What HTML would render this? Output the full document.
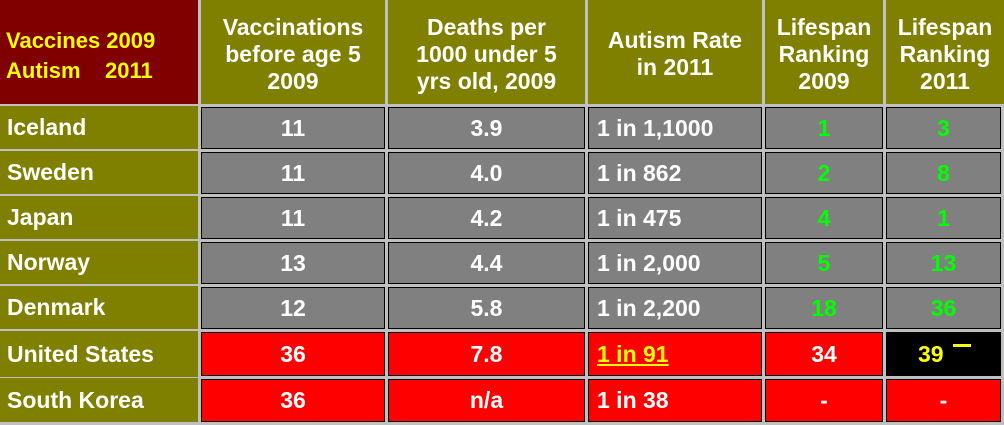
<!DOCTYPE html><html><head><style>
body{margin:0;width:1004px;height:425px;background:#c0c0c0;position:relative;overflow:hidden;font-family:"Liberation Sans",Arial,sans-serif;font-weight:bold;}
.c{position:absolute;box-sizing:border-box;display:flex;align-items:center;justify-content:center;text-align:center;color:#fff;font-size:23px;}
.h{background:#808000;line-height:27px;top:0;height:104px;padding-top:4px;}
.n{background:#808000;justify-content:flex-start;padding-left:7px;}
.g{background:#808080;border:1px solid #000;}
.r{background:#ff0000;border:1px solid #000;}
.gr{color:#00ff00}
.l{justify-content:flex-start;padding-left:8px;}
</style></head><body>
<div class="c h" style="left:0;width:198px;background:#800000;color:#ffff00;justify-content:flex-start;padding-left:6px;text-align:left;font-size:22px;line-height:30px;padding-top:8px">Vaccines 2009<br>Autism&nbsp;&nbsp;&nbsp;&nbsp;2011</div>
<div class="c h" style="left:201px;width:184px">Vaccinations<br>before age 5<br>2009</div>
<div class="c h" style="left:388px;width:197px">Deaths per<br>1000 under 5<br>yrs old, 2009</div>
<div class="c h" style="left:588px;width:174px">Autism Rate<br>in 2011</div>
<div class="c h" style="left:765px;width:118px">Lifespan<br>Ranking<br>2009</div>
<div class="c h" style="left:886px;width:118px">Lifespan<br>Ranking<br>2011</div>

<div class="c n" style="left:0;width:198px;top:106px;height:43px">Iceland</div>
<div class="c g" style="left:201px;width:184px;top:107px;height:42px">11</div>
<div class="c g" style="left:388px;width:197px;top:107px;height:42px">3.9</div>
<div class="c g l" style="left:588px;width:174px;top:107px;height:42px">1 in 1,1000</div>
<div class="c g gr" style="left:765px;width:118px;top:107px;height:42px">1</div>
<div class="c g gr" style="left:886px;width:115px;top:107px;height:42px">3</div>

<div class="c n" style="left:0;width:198px;top:151px;height:43px">Sweden</div>
<div class="c g" style="left:201px;width:184px;top:152px;height:42px">11</div>
<div class="c g" style="left:388px;width:197px;top:152px;height:42px">4.0</div>
<div class="c g l" style="left:588px;width:174px;top:152px;height:42px">1 in 862</div>
<div class="c g gr" style="left:765px;width:118px;top:152px;height:42px">2</div>
<div class="c g gr" style="left:886px;width:115px;top:152px;height:42px">8</div>

<div class="c n" style="left:0;width:198px;top:196px;height:43px">Japan</div>
<div class="c g" style="left:201px;width:184px;top:197px;height:42px">11</div>
<div class="c g" style="left:388px;width:197px;top:197px;height:42px">4.2</div>
<div class="c g l" style="left:588px;width:174px;top:197px;height:42px">1 in 475</div>
<div class="c g gr" style="left:765px;width:118px;top:197px;height:42px">4</div>
<div class="c g gr" style="left:886px;width:115px;top:197px;height:42px">1</div>

<div class="c n" style="left:0;width:198px;top:241px;height:43px">Norway</div>
<div class="c g" style="left:201px;width:184px;top:242px;height:42px">13</div>
<div class="c g" style="left:388px;width:197px;top:242px;height:42px">4.4</div>
<div class="c g l" style="left:588px;width:174px;top:242px;height:42px">1 in 2,000</div>
<div class="c g gr" style="left:765px;width:118px;top:242px;height:42px">5</div>
<div class="c g gr" style="left:886px;width:115px;top:242px;height:42px">13</div>

<div class="c n" style="left:0;width:198px;top:286px;height:43px">Denmark</div>
<div class="c g" style="left:201px;width:184px;top:287px;height:42px">12</div>
<div class="c g" style="left:388px;width:197px;top:287px;height:42px">5.8</div>
<div class="c g l" style="left:588px;width:174px;top:287px;height:42px">1 in 2,200</div>
<div class="c g gr" style="left:765px;width:118px;top:287px;height:42px">18</div>
<div class="c g gr" style="left:886px;width:115px;top:287px;height:42px">36</div>

<div class="c n" style="left:0;width:198px;top:331px;height:46px">United States</div>
<div class="c r" style="left:201px;width:184px;top:332px;height:44px">36</div>
<div class="c r" style="left:388px;width:197px;top:332px;height:44px">7.8</div>
<div class="c r l" style="left:588px;width:174px;top:332px;height:44px;color:#ffff00;text-decoration:underline">1 in 91</div>
<div class="c r" style="left:765px;width:118px;top:332px;height:44px">34</div>
<div class="c" style="left:886px;width:115px;top:332px;height:44px;background:#000;border:1px solid #000;color:#ffff00;justify-content:flex-start;padding-left:31px">39<span style="position:absolute;left:66px;top:11px;width:18px;height:3px;background:#ffff00"></span></div>

<div class="c n" style="left:0;width:198px;top:378px;height:44px">South Korea</div>
<div class="c r" style="left:201px;width:184px;top:379px;height:43px">36</div>
<div class="c r" style="left:388px;width:197px;top:379px;height:43px">n/a</div>
<div class="c r l" style="left:588px;width:174px;top:379px;height:43px">1 in 38</div>
<div class="c r" style="left:765px;width:118px;top:379px;height:43px">-</div>
<div class="c r" style="left:886px;width:115px;top:379px;height:43px">-</div>
</body></html>
